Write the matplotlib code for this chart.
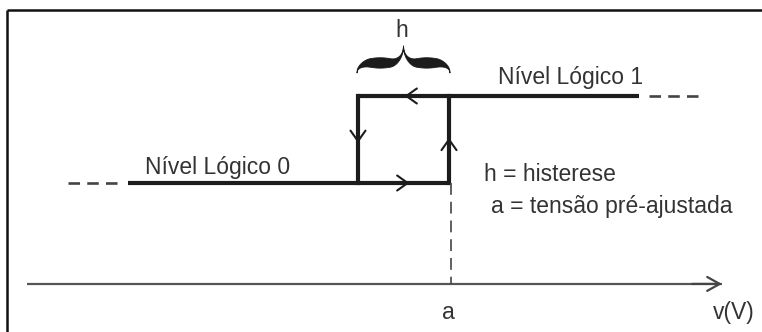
import numpy as np
import matplotlib
matplotlib.use("Agg")
import matplotlib.pyplot as plt
from matplotlib.lines import Line2D

plt.rcParams['font.family'] = ['Liberation Sans', 'DejaVu Sans']
plt.rcParams['lines.scale_dashes'] = True

# ---- data (x in arbitrary volt units, y in logic level) ----
levels = [0, 1]
a_value = 4.49           # tensão pré-ajustada
h_value = 0.91           # histerese
level0_solid = [1.28, a_value]
level0_dash = [0.68, 1.18]
level1_solid = [a_value - h_value, 6.39]
level1_dash = [6.49, 6.99]
axis_level = -1.16
axis_span = [0.27, 7.22]
level_labels = ["Nível Lógico 0", "Nível Lógico 1"]
legend_lines = ["h = histerese", "a = tensão pré-ajustada"]
x_tick_label = "a"
x_axis_label = "v(V)"
brace_label = "h"

# ---- figure ----
fig = plt.figure(figsize=(7.62, 3.32), dpi=100)
ax = fig.add_axes([0, 0, 1, 1])
ax.set_xlim(0, 7.62)
ax.set_ylim(-1.7126, 2.1034)
ax.axis('off')

LINE = '#1c1c1c'
TXT = '#333333'
FS = 16.5

# border (top and left)
fig.add_artist(Line2D([7/762, 1.0], [1 - 10/332, 1 - 10/332], color='#111111', lw=1.8,
                      transform=fig.transFigure, solid_capstyle='butt'))
fig.add_artist(Line2D([7/762, 7/762], [0, 1 - 10/332], color='#111111', lw=1.8,
                      transform=fig.transFigure, solid_capstyle='butt'))

# axis with open arrow
ax.plot(axis_span, [axis_level, axis_level], color='#555555', lw=1.6, solid_capstyle='butt')
ax.annotate('', xy=(axis_span[1], axis_level), xytext=(axis_span[1] - 0.3, axis_level),
            arrowprops=dict(arrowstyle='->,head_length=0.45,head_width=0.25',
                            color='#444444', lw=1.6, shrinkA=0, shrinkB=0,
                            mutation_scale=20))

# solid level lines and loop
ax.plot(level0_solid, [levels[0], levels[0]], color=LINE, lw=3.0, solid_capstyle='butt')
ax.plot(level1_solid, [levels[1], levels[1]], color=LINE, lw=3.0, solid_capstyle='butt')
ax.plot([a_value - h_value, a_value - h_value], levels, color=LINE, lw=3.0, solid_capstyle='projecting')
ax.plot([a_value, a_value], levels, color=LINE, lw=3.0, solid_capstyle='projecting')

# dashed extensions (dash lengths in points, divided by linewidth because they get scaled)
lw_d = 1.9
for seg, lv in ((level0_dash, levels[0]), (level1_dash, levels[1])):
    ax.plot(seg, [lv, lv], color='#444444', lw=lw_d, dash_capstyle='butt',
            linestyle=(0, (8.3 / lw_d, 5.2 / lw_d)))
lw_v = 1.2
ax.plot([a_value + 0.02, a_value + 0.02], [levels[0], axis_level], color='#444444', lw=lw_v,
        dash_capstyle='butt', linestyle=(0, (8.5 / lw_v, 5.0 / lw_v)))

# direction chevrons
chev = dict(arrowstyle='->,head_length=0.38,head_width=0.27', color=LINE, lw=1.5,
            shrinkA=0, shrinkB=0, mutation_scale=20)
mid = a_value - h_value / 2
ax.annotate('', xy=(mid + 0.06, levels[0]), xytext=(mid - 0.3, levels[0]), arrowprops=chev)
ax.annotate('', xy=(mid + 0.01, levels[1]), xytext=(mid + 0.3, levels[1]), arrowprops=chev)
ax.annotate('', xy=(a_value - h_value, 0.46), xytext=(a_value - h_value, 0.8), arrowprops=chev)
ax.annotate('', xy=(a_value, 0.52), xytext=(a_value, 0.2), arrowprops=chev)

# curly brace over the hysteresis band
def brace(ax, x0, x1, y_end, y_plateau, y_tip, wmax):
    n = 120
    s = np.linspace(0, 1, n)
    yc = np.full(n, y_plateau, dtype=float)
    u = np.clip(1 - s / 0.3, 0, 1)
    yc += (y_end - y_plateau) * (1 - np.sqrt(1 - u ** 2))
    v = np.clip((s - 0.72) / 0.28, 0, 1)
    yc += (y_tip - y_plateau) * (1 - np.sqrt(1 - v ** 2))
    w = wmax * np.sin(np.pi * s) ** 0.9 + 0.014
    half = (x1 - x0) / 2
    xl = x0 + s * half
    xr = x1 - s * half
    xs = np.concatenate([xl, xr[::-1]])
    ys = np.concatenate([yc, yc[::-1]])
    ws = np.concatenate([w, w[::-1]])
    ax.fill(np.concatenate([xs, xs[::-1]]),
            np.concatenate([ys + ws / 2, (ys - ws / 2)[::-1]]),
            color=LINE, lw=0.6, ec=LINE)

brace(ax, a_value - h_value - 0.01, a_value + 0.01, 1.27, 1.38, 1.57, 0.105)

# texts
ax.text(a_value - h_value / 2 - 0.02, 1.678, brace_label, fontsize=FS, color=TXT,
        ha='center', va='baseline')
ax.text(1.45, 0.103, level_labels[0], fontsize=FS, color=TXT, ha='left', va='baseline')
ax.text(4.98, 1.138, level_labels[1], fontsize=FS, color=TXT, ha='left', va='baseline')
ax.text(4.84, 0.023, legend_lines[0], fontsize=FS, color=TXT, ha='left', va='baseline')
ax.text(4.91, -0.345, legend_lines[1], fontsize=FS, color=TXT, ha='left', va='baseline')
ax.text(a_value - 0.01, -1.563, x_tick_label, fontsize=FS, color=TXT, ha='center', va='baseline')
ax.text(7.13, -1.563, x_axis_label, fontsize=FS, color=TXT, ha='left', va='baseline')

fig.savefig('out.png', dpi=100)
